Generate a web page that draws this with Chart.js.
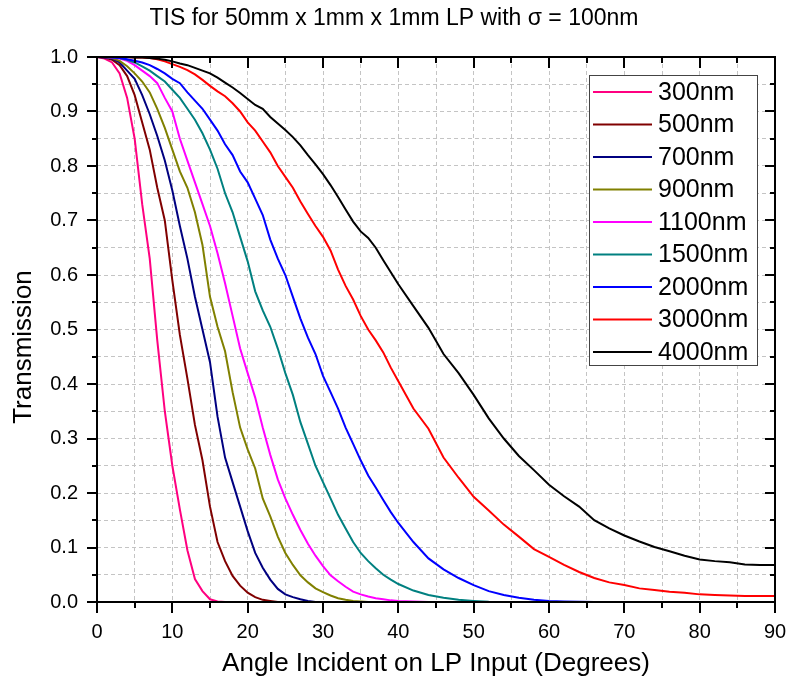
<!DOCTYPE html>
<html>
<head>
<meta charset="utf-8">
<script src="https://cdn.jsdelivr.net/npm/chart.js@4/dist/chart.umd.min.js"></script>
<style>
html,body{margin:0;padding:0;background:#fff;}
#wrap{width:794px;height:688px;position:relative;}
</style>
</head>
<body>
<div id="wrap"><canvas id="c" width="794" height="688"></canvas></div>
<script>
// ---- data ----
const titleText = "TIS for 50mm x 1mm x 1mm LP with \u03C3 = 100nm";
const xTitle = "Angle Incident on LP Input (Degrees)";
const yTitle = "Transmission";

const angles = [0,1,2,3,4,5,6,7,8,9,10,11,12,13,14,15,16,17,18,19,20,21,22,23,24,25,26,27,28,29,30,31,32,33,34,35,36,37,38,39,40,
  42,44,46,48,50,52,54,56,58,60,62,64,66,68,70,72,74,76,78,80,82,84,86,88,90];

const seriesNames = ["300nm","500nm","700nm","900nm","1100nm","1500nm","2000nm","3000nm","4000nm"];
const seriesColors = ["#ff0080","#800000","#000080","#808000","#ff00ff","#008080","#0000ff","#ff0000","#000000"];

const t300 = [1,0.997,0.99,0.97,0.925,0.85,0.73,0.63,0.48,0.35,0.25,0.17,0.095,0.042,0.02,0.005,0.001,0,0,0,0,0,0,0,0,0,0,0,0,0,0,0,0,0,0,0,0,0,0,0,0,
  0,0,0,0,0,0,0,0,0,0,0,0,0,0,0,0,0,0,0,0,0,0,0,0,0];
const t500 = [1,0.999,0.995,0.985,0.965,0.93,0.88,0.83,0.76,0.70,0.59,0.49,0.41,0.325,0.26,0.175,0.11,0.075,0.048,0.03,0.017,0.009,0.004,0.002,0,0,0,0,0,0,0,0,0,0,0,0,0,0,0,0,0,
  0,0,0,0,0,0,0,0,0,0,0,0,0,0,0,0,0,0,0,0,0,0,0,0,0];
const t700 = [1,0.999,0.997,0.99,0.975,0.96,0.93,0.895,0.855,0.81,0.755,0.69,0.63,0.56,0.50,0.44,0.34,0.265,0.22,0.175,0.13,0.09,0.063,0.041,0.024,0.014,0.009,0.005,0.002,0,0,0,0,0,0,0,0,0,0,0,0,
  0,0,0,0,0,0,0,0,0,0,0,0,0,0,0,0,0,0,0,0,0,0,0,0,0];
const t900 = [1,1,0.998,0.993,0.983,0.97,0.955,0.935,0.905,0.87,0.83,0.79,0.76,0.715,0.655,0.56,0.505,0.46,0.385,0.32,0.28,0.245,0.19,0.157,0.12,0.09,0.068,0.049,0.036,0.025,0.018,0.012,0.007,0.004,0.002,0.001,0,0,0,0,0,
  0,0,0,0,0,0,0,0,0,0,0,0,0,0,0,0,0,0,0,0,0,0,0,0,0];
const t1100 = [1,1,0.999,0.997,0.993,0.985,0.975,0.965,0.952,0.925,0.90,0.85,0.81,0.77,0.73,0.69,0.64,0.585,0.525,0.465,0.42,0.375,0.32,0.27,0.225,0.19,0.16,0.132,0.107,0.085,0.066,0.049,0.038,0.028,0.019,0.014,0.01,0.007,0.005,0.003,0.002,
  0.001,0,0,0,0,0,0,0,0,0,0,0,0,0,0,0,0,0,0,0,0,0,0,0,0];
const t1500 = [1,1,1,0.998,0.995,0.99,0.983,0.975,0.965,0.955,0.94,0.925,0.905,0.885,0.86,0.83,0.795,0.75,0.715,0.67,0.625,0.57,0.535,0.505,0.465,0.42,0.38,0.33,0.29,0.25,0.22,0.19,0.16,0.135,0.11,0.09,0.075,0.062,0.05,0.041,0.033,
  0.021,0.013,0.008,0.004,0.002,0.0005,0,0,0,0,0,0,0,0,0,0,0,0,0,0,0,0,0,0,0];
const t2000 = [1,1,0.999,0.998,0.996,0.993,0.99,0.985,0.978,0.97,0.96,0.952,0.935,0.92,0.905,0.885,0.865,0.84,0.82,0.79,0.77,0.74,0.71,0.665,0.63,0.60,0.56,0.52,0.485,0.455,0.415,0.385,0.355,0.32,0.29,0.26,0.232,0.21,0.187,0.165,0.145,
  0.11,0.08,0.06,0.044,0.031,0.02,0.013,0.008,0.004,0.002,0.001,0.0005,0,0,0,0,0,0,0,0,0,0,0,0,0];
const t3000 = [1,1,1,1,1,0.999,0.999,0.998,0.996,0.992,0.987,0.982,0.976,0.968,0.958,0.947,0.937,0.928,0.915,0.90,0.88,0.865,0.845,0.825,0.80,0.78,0.76,0.735,0.712,0.69,0.67,0.645,0.61,0.58,0.555,0.525,0.50,0.48,0.458,0.43,0.405,
  0.355,0.318,0.265,0.228,0.193,0.168,0.142,0.12,0.097,0.083,0.068,0.055,0.044,0.036,0.031,0.025,0.022,0.019,0.017,0.014,0.013,0.012,0.011,0.011,0.011];
const t4000 = [1,1,1,1,1,0.999,0.999,0.998,0.997,0.995,0.992,0.988,0.985,0.98,0.975,0.97,0.962,0.953,0.944,0.934,0.923,0.912,0.905,0.89,0.878,0.866,0.853,0.838,0.82,0.803,0.785,0.765,0.743,0.72,0.698,0.68,0.668,0.65,0.627,0.605,0.583,
  0.543,0.503,0.455,0.42,0.38,0.337,0.30,0.268,0.242,0.215,0.194,0.175,0.15,0.135,0.122,0.111,0.101,0.093,0.085,0.078,0.075,0.073,0.069,0.068,0.068];

const seriesValues = [t300,t500,t700,t900,t1100,t1500,t2000,t3000,t4000];

const xMin = 0, xMax = 90, xStep = 5, xLabelEvery = 10;
const yMin = 0, yMax = 1, yStep = 0.05;

// ---- chart ----
const FONT = "'Liberation Sans', Arial, sans-serif";

const datasets = seriesNames.map((name, i) => ({
  label: name,
  data: angles.map((a, k) => ({ x: a, y: seriesValues[i][k] })),
  borderColor: seriesColors[i],
  backgroundColor: seriesColors[i],
  borderWidth: 2,
  pointRadius: 0,
  tension: 0,
  fill: false,
  order: seriesNames.length - i
}));

const decorPlugin = {
  id: 'decor',
  afterDatasetsDraw(chart) {
    const ctx = chart.ctx;
    const xs = chart.scales.x, ys = chart.scales.y;
    const a = chart.chartArea;
    ctx.save();
    // frame
    ctx.strokeStyle = '#000';
    ctx.lineWidth = 2;
    ctx.strokeRect(a.left, a.top, a.right - a.left, a.bottom - a.top);
    // ticks
    ctx.lineWidth = 2;
    ctx.beginPath();
    for (let v = xMin; v <= xMax + 1e-9; v += xStep) {
      const px = Math.round(xs.getPixelForValue(v));
      const major = Math.abs(v % xLabelEvery) < 1e-9;
      const len = major ? 11 : 6;
      ctx.moveTo(px, a.bottom); ctx.lineTo(px, a.bottom + len);
      ctx.moveTo(px, a.top); ctx.lineTo(px, a.top + len);
    }
    for (let k = 0; k <= Math.round((yMax - yMin) / yStep); k++) {
      const v = yMin + k * yStep;
      const py = Math.round(ys.getPixelForValue(v));
      const major = k % 2 === 0;
      const len = major ? 10 : 5;
      ctx.moveTo(a.left, py); ctx.lineTo(a.left - len, py);
      ctx.moveTo(a.right, py); ctx.lineTo(a.right - len, py);
    }
    ctx.stroke();

    // legend box
    const lx = 589, ly = 75, lw = 168, lh = 290;
    ctx.fillStyle = '#fff';
    ctx.fillRect(lx, ly, lw, lh);
    ctx.strokeStyle = '#444';
    ctx.lineWidth = 1;
    ctx.strokeRect(lx + 0.5, ly + 0.5, lw, lh);
    ctx.font = '25px ' + FONT;
    ctx.textBaseline = 'middle';
    ctx.textAlign = 'left';
    chart.data.datasets.forEach((ds, i) => {
      const cy = 92 + i * 32.5;
      ctx.strokeStyle = ds.borderColor;
      ctx.lineWidth = 2;
      ctx.beginPath();
      ctx.moveTo(593, cy); ctx.lineTo(652, cy);
      ctx.stroke();
      ctx.fillStyle = '#000';
      ctx.fillText(ds.label, 658, cy + 1);
    });

    // titles
    ctx.fillStyle = '#000';
    ctx.font = '23px ' + FONT;
    ctx.textAlign = 'center';
    ctx.textBaseline = 'middle';
    ctx.fillText(titleText, 394, 19);
    ctx.font = '26px ' + FONT;
    ctx.fillText(xTitle, (a.left + a.right) / 2, 664);
    ctx.save();
    ctx.translate(24, 347);
    ctx.rotate(-Math.PI / 2);
    ctx.fillText(yTitle, 0, 0);
    ctx.restore();
    ctx.restore();
  }
};

new Chart(document.getElementById('c'), {
  type: 'line',
  data: { datasets },
  options: {
    responsive: false,
    animation: false,
    devicePixelRatio: 1,
    layout: { padding: { top: 57, right: 19, left: 0, bottom: 0 } },
    plugins: { legend: { display: false }, title: { display: false }, tooltip: { enabled: false } },
    scales: {
      x: {
        type: 'linear',
        min: xMin, max: xMax,
        afterFit(s) { s.height = 86; s.paddingLeft = 0; s.paddingRight = 0; },
        grid: { color: '#c4c4c4', lineWidth: 1, drawTicks: false },
        border: { display: false, dash: [4, 3] },
        ticks: {
          stepSize: xStep, autoSkip: false, maxRotation: 0, padding: 18,
          color: '#000', font: { family: FONT, size: 20 },
          callback: (v) => (Math.abs(v % xLabelEvery) < 1e-9 ? String(v) : '')
        }
      },
      y: {
        type: 'linear',
        min: yMin, max: yMax,
        afterFit(s) { s.width = 97; s.paddingTop = 0; s.paddingBottom = 0; },
        grid: { color: '#c4c4c4', lineWidth: 1, drawTicks: false },
        border: { display: false, dash: [4, 3] },
        ticks: {
          stepSize: yStep, autoSkip: false, padding: 19,
          color: '#000', font: { family: FONT, size: 20 },
          callback: (v) => { const r = Math.round(v * 100); return r % 10 === 0 ? (r / 100).toFixed(1) : ''; }
        }
      }
    }
  },
  plugins: [decorPlugin]
});
</script>
</body>
</html>
